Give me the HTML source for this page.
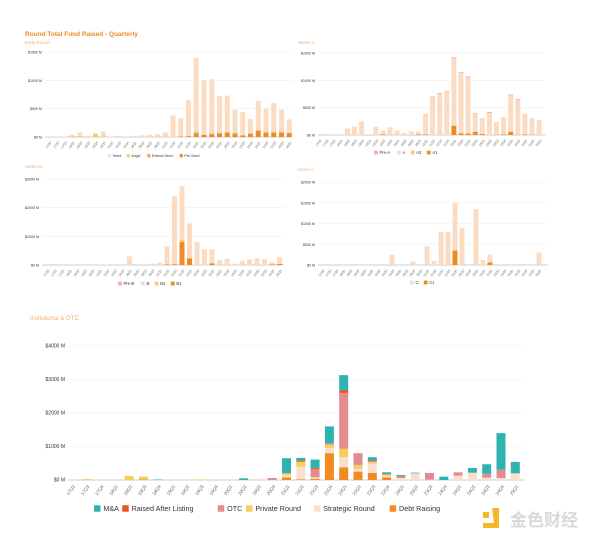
<!DOCTYPE html>
<html><head><meta charset="utf-8">
<style>
html,body{margin:0;padding:0;background:#fff;}
body{width:600px;height:540px;overflow:hidden;position:relative;font-family:"Liberation Sans",sans-serif;}
svg{position:absolute;left:0;top:0;}
</style></head>
<body>
<svg id="s" width="600" height="540" xmlns="http://www.w3.org/2000/svg"></svg>
<script>
var S=document.getElementById('s');var out='';
var Q=[];Q.push('17Q2','17Q3','17Q4');for(var y=18;y<=24;y++)for(var q=1;q<=4;q++)Q.push(y+'Q'+q);Q.push('25Q1');
function t(x,y,s,sz,col,anc,extra){out+='<text x="'+x+'" y="'+y+'" font-size="'+sz+'" fill="'+col+'"'+(anc?' text-anchor="'+anc+'"':'')+(extra||'')+'>'+s+'</text>';}
function r(x,y,w,h,c){if(h<=0)return;out+='<rect x="'+x.toFixed(2)+'" y="'+y.toFixed(2)+'" width="'+w+'" height="'+h.toFixed(2)+'" fill="'+c+'"/>';}
function chart(o){
 var n=o.ticks;
 for(var i=0;i<=n;i++){var yy=o.y0-(o.y0-o.yTop)*i/n;
  out+='<line x1="'+o.x0+'" x2="'+o.x1+'" y1="'+yy+'" y2="'+yy+'" stroke="'+(i==0?'#bbb':'#f3ece4')+'" stroke-width="'+(i==0?0.8:0.6)+'"/>';
  t(o.x0-3,yy+1.5,o.labels[i],o.fs,'#333','end');}
 for(var k=0;k<32;k++){var cx=o.first+o.step*k;var acc=0;
  for(var s=0;s<o.series.length;s++){var v=o.series[s][k]||0;if(!v)continue;
   var h=v/o.max*(o.y0-o.yTop);r(cx-o.bw/2,o.y0-(acc+h),o.bw,h,o.colors[s]);acc+=h;}
  var ly=o.y0+3;t(cx+1,ly+o.lblfs,Q[k],o.lblfs,'#666','end',' transform="rotate(-55 '+(cx+1)+' '+(ly+o.lblfs*0.4)+')"');}
}
function legend(items,x,y,sz,gap){var cx=x;for(var i=0;i<items.length;i++){r(cx,y-sz*0.8,sz*0.9,sz*0.9,items[i][1]);t(cx+sz*1.3,y,items[i][0],sz,'#333');cx+=sz*1.3+items[i][0].replace('&amp;','&').length*sz*0.55+gap;}}
function z(a){var r=[];for(var i=0;i<32;i++)r.push(0);for(var k in a)r[k]=a[k];return r;}

t(25,36,'Round Total Fund Raised - Quarterly',6.5,'#ef8a1f',null,' font-weight="bold"');
t(25,44,'Early Round',4.5,'#f0b070');
var tot=[5,5,10,40,80,20,60,100,10,20,10,20,30,40,50,80,380,330,650,1400,1000,1020,720,730,480,440,320,640,500,600,480,310];
var pre=z({17:10,18:15,19:60,20:40,21:50,22:60,23:70,24:60,25:30,26:60,27:110,28:80,29:80,30:80,31:70});
var ang=z({3:15,4:20,6:60,7:10,19:10,23:10,24:20});
var ext=z({19:20,21:10,22:10,23:10,27:10});
var seed=tot.map(function(v,i){return Math.max(0,v-pre[i]-ang[i]-ext[i]);});
chart({x0:45,x1:292,yTop:52,y0:137,max:1500,ticks:3,labels:['$0 M','$500 M','$1000 M','$1500 M'],series:[pre,ext,ang,seed],colors:['#ef8a1f','#f2a56a','#f6cf6a','#fbdcc2'],bw:5,first:49,step:7.75,fs:3.6,lblfs:3.2});
legend([['Seed','#fbdcc2'],['Angel','#f6cf6a'],['Extend-Seed','#f2a56a'],['Pre-Seed','#ef8a1f']],108,157,3.6,6);

t(298,44,'Series A',4.5,'#f0b070');
var A=[0,0,2,2,120,150,250,0,150,80,140,80,40,70,60,380,710,770,800,1420,1150,1070,400,300,420,240,320,740,660,380,300,270];
var A1=z({9:15,14:10,15:10,19:170,20:30,21:30,22:60,23:20,25:5,26:10,27:60,29:10,30:5});
var PA=z({15:10,16:10,17:15,18:15,19:20,20:15,21:15,22:10,23:10,24:20,26:10,27:15,28:15,29:10,30:10});
var AA=A.map(function(v,i){return Math.max(0,v-A1[i]-PA[i]);});
chart({x0:318,x1:545,yTop:53,y0:135,max:1500,ticks:3,labels:['$0 M','$500 M','$1000 M','$1500 M'],series:[A1,z({}),AA,PA],colors:['#ef8a1f','#f6cf6a','#fbdcc2','#e8b4a8'],bw:5,first:319,step:7.1,fs:3.6,lblfs:3.2});
legend([['Pre-A','#e8b4a8'],['A','#fbdcc2'],['A2','#f6cf6a'],['A1','#ef8a1f']],374,154,4.2,6);

t(25,168,'Series B',4.5,'#f0b070');
var B=[0,0,5,0,0,0,5,10,20,0,5,300,0,0,50,80,650,2400,2750,1450,800,550,550,180,220,50,150,200,230,200,100,280];
var B1=z({16:20,17:30,18:800,19:230,22:60,30:20,31:40});
var B2=z({18:80,19:20,22:20});
var BB=B.map(function(v,i){return Math.max(0,v-B1[i]-B2[i]);});
chart({x0:42,x1:284,yTop:179,y0:265,max:3000,ticks:3,labels:['$0 M','$1000 M','$2000 M','$3000 M'],series:[B1,B2,BB],colors:['#ef8a1f','#f6cf6a','#fbdcc2'],bw:5,first:47,step:7.5,fs:3.6,lblfs:3.2});
legend([['Pre-B','#e8b4a8'],['B','#fbdcc2'],['B2','#f6cf6a'],['B1','#ef8a1f']],118,285,4.2,6);

t(297,171,'Series C',4.5,'#f0b070');
var C=z({10:250,13:80,15:450,16:100,17:800,18:800,19:1500,20:900,22:1350,23:120,24:250,31:300});
var C1=z({19:350,24:60});
var CC=C.map(function(v,i){return Math.max(0,v-C1[i]);});
chart({x0:318,x1:548,yTop:182,y0:265,max:2000,ticks:4,labels:['$0 M','$500 M','$1000 M','$1500 M','$2000 M'],series:[C1,CC],colors:['#ef8a1f','#fbdcc2'],bw:5,first:322,step:7.0,fs:3.6,lblfs:3.2});
legend([['C','#fbdcc2'],['C1','#ef8a1f']],410,284,4.2,6);

t(30,320,'Insitutional &amp; OTC',6,'#f0b070');
var debt=z({5:20,15:80,16:20,17:30,18:800,19:380,20:250,21:210,22:80});
var strat=z({13:40,15:60,16:380,17:50,18:150,19:300,20:80,21:280,22:40,23:60,24:200,25:10,27:130,28:200,29:70,30:60,31:200});
var priv=z({1:30,4:120,5:80,9:20,15:60,16:150,18:100,19:250,20:120,21:40,22:40,28:20});
var otc=z({14:60,17:250,18:50,19:1670,20:350,21:30,22:20,23:60,25:200,27:100,29:120,30:250});
var ral=z({16:30,17:30,19:80,21:20});
var ma=z({6:15,12:50,15:450,16:80,17:250,18:500,19:450,21:100,22:50,23:30,24:20,26:100,28:140,29:280,30:1090,31:340});
chart({x0:68,x1:525,yTop:346,y0:480,max:4000,ticks:4,labels:['$0 M','$1000 M','$2000 M','$3000 M','$4000 M'],series:[debt,strat,priv,otc,ral,ma],colors:['#f28a22','#fae0cc','#f8cd5f','#e38c8f','#e8541e','#2fb3b0'],bw:9,first:72,step:14.3,fs:5,lblfs:4.6});
legend([['M&amp;A','#2fb3b0'],['Raised After Listing','#e8541e'],['OTC','#e38c8f'],['Private Round','#f8cd5f'],['Strategic Round','#fae0cc'],['Debt Raising','#f28a22']],94,511,7.2,7);
out+='<rect x="483" y="512" width="6" height="6" fill="#f5b62a"/><path d="M492 508 h7 v20 h-16 v-5 h11 z" fill="#f5b62a"/>';
t(510,526,'金色财经',17,'#d8d8d8',null,' font-family="Noto Sans CJK SC, sans-serif" font-weight="bold"');
S.innerHTML=out;
</script>
</body></html>
